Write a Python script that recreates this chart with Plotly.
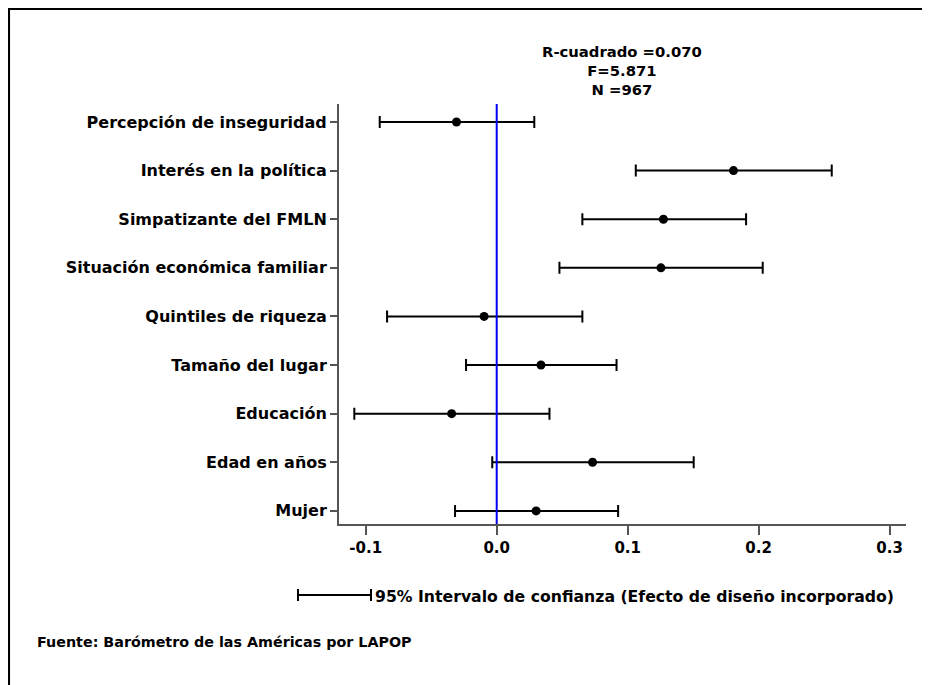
import plotly.graph_objects as go

categories = ["Percepción de inseguridad", "Interés en la política", "Simpatizante del FMLN",
              "Situación económica familiar", "Quintiles de riqueza", "Tamaño del lugar",
              "Educación", "Edad en años", "Mujer"]
coef = [-0.0307, 0.1808, 0.1273, 0.1254, -0.0096, 0.0338, -0.0344, 0.0732, 0.0301]
ci_low = [-0.0893, 0.1062, 0.0654, 0.0479, -0.0837, -0.0234, -0.1087, -0.0034, -0.0318]
ci_high = [0.0287, 0.2558, 0.1904, 0.2031, 0.0654, 0.0915, 0.0403, 0.1504, 0.0927]
x_ticks = [-0.1, 0.0, 0.1, 0.2, 0.3]
x_tick_labels = ["-0.1", "0.0", "0.1", "0.2", "0.3"]
stats = ["R-cuadrado =0.070", "F=5.871", "N =967"]
legend_text = "95% Intervalo de confianza (Efecto de diseño incorporado)"
source_text = "Fuente: Barómetro de las Américas por LAPOP"

FONT = "DejaVu Sans"
OFF = 8  # page body margin
W, H = 930, 685
L, R, T, B = 339, 24, 104, 161   # plot area in page pixels
pw, ph = W - L - R, H - T - B


def px(x):
    return (x - L) / pw


def py(y):
    return (H - B - y) / ph


err_plus = [h - c for h, c in zip(ci_high, coef)]
err_minus = [c - l for c, l in zip(coef, ci_low)]

fig = go.Figure()
fig.add_trace(go.Scatter(
    x=coef, y=categories, mode="markers",
    marker=dict(color="black", size=9),
    error_x=dict(type="data", array=err_plus, arrayminus=err_minus,
                 color="black", thickness=2, width=6),
    showlegend=False, hoverinfo="skip"))

fig.add_shape(type="line", xref="x", yref="paper", x0=0, x1=0, y0=0, y1=1,
              line=dict(color="#0000ee", width=2), layer="above")

# legend sample line
fig.add_shape(type="line", xref="paper", yref="paper", x0=px(298), x1=px(371), y0=py(595), y1=py(595),
              line=dict(color="black", width=2))
for xx in (298, 371):
    fig.add_shape(type="line", xref="paper", yref="paper", x0=px(xx), x1=px(xx), y0=py(589), y1=py(601),
                  line=dict(color="black", width=2))
fig.add_annotation(xref="paper", yref="paper", x=px(373), y=py(596), xanchor="left", yanchor="middle",
                   text=legend_text, showarrow=False,
                   font=dict(family=FONT, size=15.7, color="black", weight="bold"))
fig.add_annotation(xref="paper", yref="paper", x=px(35), y=py(642), xanchor="left", yanchor="middle",
                   text=source_text, showarrow=False,
                   font=dict(family=FONT, size=14.3, color="black", weight="bold"))
fig.add_annotation(xref="paper", yref="paper", x=px(622), y=py(70.5), xanchor="center",
                   yanchor="middle", text="<br>".join(stats), showarrow=False, align="center",
                   font=dict(family=FONT, size=14.8, color="black", weight="bold"))

# frame (top and left only)
fig.add_shape(type="line", xref="paper", yref="paper", x0=px(8), x1=px(940), y0=py(8.8), y1=py(8.8),
              line=dict(color="black", width=2.5))
fig.add_shape(type="line", xref="paper", yref="paper", x0=px(8.8), x1=px(8.8), y0=py(8), y1=py(700),
              line=dict(color="black", width=2.5))

fig.update_layout(
    width=W - OFF, height=H - OFF,
    margin=dict(l=L - OFF, r=R, t=T - OFF, b=B, pad=0),
    paper_bgcolor="white", plot_bgcolor="white",
    xaxis=dict(range=[-0.1204, 0.3125], tickvals=x_ticks, ticktext=x_tick_labels,
               showgrid=False, zeroline=False, showline=True, linecolor="#555", linewidth=2,
               ticks="outside", ticklen=9, tickwidth=1.5, tickcolor="#555",
               tickfont=dict(family=FONT, size=15, color="black", weight="bold")),
    yaxis=dict(categoryorder="array", categoryarray=categories[::-1], range=[-0.27, 8.37],
               showgrid=False, zeroline=False, showline=True, linecolor="#555", linewidth=2,
               ticks="outside", ticklen=7, tickwidth=1.5, tickcolor="#555",
               tickfont=dict(family=FONT, size=16, color="black", weight="bold")),
)

fig.write_html("out.html")
